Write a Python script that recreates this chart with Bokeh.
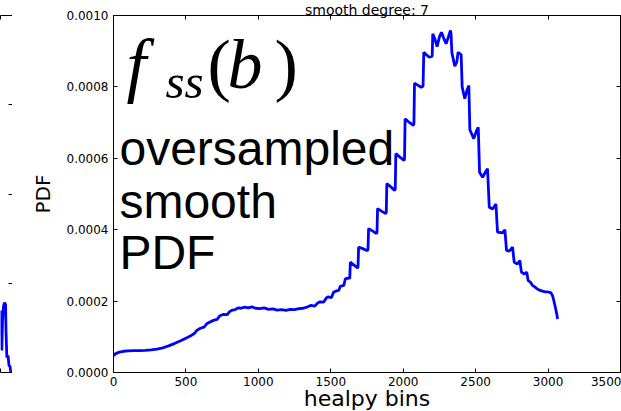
from bokeh.plotting import figure
from bokeh.layouts import row
from bokeh.models import FixedTicker, LinearAxis, Label, Range1d, PrintfTickFormatter, Title
from bokeh.embed import file_html
from bokeh.resources import INLINE

# ---------------- data ----------------
bins = [0, 15, 40, 70, 100, 140, 180, 220, 260, 300, 340, 380, 420, 460, 500, 530,
        560, 575, 600, 625, 645, 660, 690, 715, 735, 760, 785, 800, 815, 840, 860, 880,
        905, 930, 955, 980, 1010, 1040, 1070, 1100, 1130, 1160, 1190, 1220, 1250, 1280,
        1310, 1340, 1365, 1390, 1410, 1425, 1450, 1470, 1480, 1505, 1518, 1530, 1555,
        1565, 1590, 1600, 1625, 1631, 1635, 1660, 1684, 1688, 1692, 1720, 1753, 1757,
        1761, 1790, 1815, 1819, 1823, 1850, 1879, 1883, 1887, 1915, 1941, 1945, 1949,
        1975, 2005, 2009, 2013, 2040, 2070, 2074, 2078, 2100, 2124, 2137, 2142, 2160,
        2180, 2200, 2204, 2218, 2234, 2250, 2264, 2280, 2296, 2312, 2326, 2330, 2336,
        2356, 2370, 2379, 2400, 2407, 2425, 2440, 2453, 2460, 2487, 2505, 2518, 2527,
        2548, 2570, 2582, 2594, 2617, 2640, 2651, 2686, 2702, 2713, 2732, 2755, 2766,
        2789, 2805, 2816, 2835, 2853, 2862, 2880, 2892, 2910, 2926, 2945, 2961, 2980,
        2995, 3018, 3030, 3037, 3045, 3053, 3060, 3066]
pdf = [0.0000470, 0.0000530, 0.0000570, 0.0000595, 0.0000605, 0.0000615, 0.0000612,
       0.0000620, 0.0000632, 0.0000652, 0.0000690, 0.0000745, 0.0000810, 0.0000880,
       0.0000960, 0.000102, 0.000110, 0.000118, 0.000124, 0.000127, 0.000137, 0.000140,
       0.000146, 0.000149, 0.000159, 0.000163, 0.000162, 0.000170, 0.000174, 0.000176,
       0.000181, 0.000180, 0.000183, 0.000181, 0.000184, 0.000180, 0.000179, 0.000181,
       0.000177, 0.000178, 0.000175, 0.000176, 0.000174, 0.000177, 0.000176, 0.000179,
       0.000180, 0.000184, 0.000188, 0.000186, 0.000195, 0.000198, 0.000197, 0.000209,
       0.000212, 0.000210, 0.000224, 0.000227, 0.000230, 0.000241, 0.000244, 0.000262,
       0.000265, 0.000263, 0.000309, 0.000301, 0.000293, 0.000295, 0.000351, 0.000347,
       0.000341, 0.000345, 0.000403, 0.000396, 0.000389, 0.000392, 0.000459, 0.000452,
       0.000445, 0.000448, 0.000529, 0.000520, 0.000510, 0.000514, 0.000613, 0.000604,
       0.000594, 0.000598, 0.000711, 0.000701, 0.000692, 0.000697, 0.000810, 0.000805,
       0.000799, 0.000802, 0.000897, 0.000890, 0.000883, 0.000886, 0.000949, 0.000935,
       0.000913, 0.000940, 0.000953, 0.000936, 0.000921, 0.000940, 0.000958, 0.000950,
       0.000896, 0.000858, 0.000870, 0.000897, 0.000890, 0.000800, 0.000767, 0.000790,
       0.000804, 0.000680, 0.000655, 0.000676, 0.000687, 0.000561, 0.000547, 0.000563,
       0.000571, 0.000463, 0.000458, 0.000472, 0.000393, 0.000391, 0.000400, 0.000342,
       0.000340, 0.000351, 0.000309, 0.000304, 0.000314, 0.000281, 0.000276, 0.000281,
       0.000258, 0.000252, 0.000244, 0.000239, 0.000234, 0.000230, 0.000228, 0.000226,
       0.000226, 0.000224, 0.000216, 0.000206, 0.000192, 0.000178, 0.000163, 0.000150]

# tail of the neighbouring (cut-off) panel on the left
left_bins = [2997, 3002, 3006, 3011, 3018, 3025, 3032, 3035, 3041, 3049, 3056, 3063, 3068]
left_pdf = [0.000207, 0.000347, 0.000123, 0.000291, 0.000370, 0.000392, 0.000381,
            0.000235, 0.000084, 0.000095, 0.000039, 0.000034, 0.0]

x_ticks = [0, 500, 1000, 1500, 2000, 2500, 3000, 3500]
y_ticks = [0.0, 0.0002, 0.0004, 0.0006, 0.0008, 0.0010]
left_x_ticks = [3000]
left_y_ticks = [0.0005, 0.0010, 0.0015]

title_text = "smooth degree: 7"
x_label = "healpy bins"
y_label = "PDF"
note_lines = ["oversampled", "smooth", "PDF"]

FONT = "DejaVu Sans"


def style_axis(ax, ticks, labels=True, size="12px"):
    ax.ticker = FixedTicker(ticks=ticks)
    ax.minor_tick_line_color = None
    ax.major_tick_in = 4
    ax.major_tick_out = 0
    ax.axis_line_color = "black"
    ax.major_tick_line_color = "black"
    if labels:
        ax.major_label_text_font = FONT
        ax.major_label_text_font_size = size
        ax.major_label_text_color = "black"
    else:
        ax.major_label_text_font_size = "0px"
        ax.major_label_text_color = None
        ax.major_label_standoff = 0


# ---------------- left sliver panel ----------------
pl = figure(width=12, height=411, x_range=Range1d(2997, 3080), y_range=Range1d(0, 0.002),
            output_backend="svg", toolbar_location=None,
            x_axis_location=None, y_axis_location=None,
            min_border_left=0, min_border_right=0, min_border_top=15, min_border_bottom=39)
pl.outline_line_color = None
pl.xgrid.visible = False
pl.ygrid.visible = False
lb = LinearAxis()
style_axis(lb, left_x_ticks)
lb.major_label_standoff = 4
pl.add_layout(lb, "below")
lt = LinearAxis()
style_axis(lt, left_x_ticks, labels=False)
pl.add_layout(lt, "above")
lr = LinearAxis()
style_axis(lr, left_y_ticks, labels=False)
pl.add_layout(lr, "right")
pl.line(left_bins, left_pdf, line_color="#0000ff", line_width=2.8)

# ---------------- main panel ----------------
p = figure(width=609, height=411, x_range=Range1d(0, 3500), y_range=Range1d(0, 0.001),
           output_backend="svg", toolbar_location=None,
           x_axis_location=None, y_axis_location=None,
           min_border_left=101, min_border_right=1, min_border_top=15, min_border_bottom=39)
p.outline_line_color = "black"
p.xgrid.visible = False
p.ygrid.visible = False

xb = LinearAxis()
style_axis(xb, x_ticks)
xb.major_label_standoff = 4
p.add_layout(xb, "below")

yl = LinearAxis(axis_label=y_label)
style_axis(yl, y_ticks)
yl.formatter = PrintfTickFormatter(format="%.4f")
yl.major_label_standoff = 5
yl.axis_label_text_font = FONT
yl.axis_label_text_font_size = "20px"
yl.axis_label_text_font_style = "normal"
yl.axis_label_text_color = "black"
yl.axis_label_standoff = 9
p.add_layout(yl, "left")

xt = LinearAxis()
style_axis(xt, x_ticks, labels=False)
p.add_layout(xt, "above")
yr = LinearAxis()
style_axis(yr, y_ticks, labels=False)
p.add_layout(yr, "right")

# x-axis title, as a title panel under the tick labels
p.add_layout(Title(text=x_label, align="center", vertical_align="middle",
                   text_font=FONT, text_font_size="22px", text_font_style="normal",
                   text_color="black", standoff=-8), "below")
# plot title at the top (partly cut off in the source picture)
p.add_layout(Title(text=title_text, align="center", vertical_align="bottom",
                   text_font=FONT, text_font_size="14px", text_font_style="normal",
                   text_color="black", standoff=-4), "above")

p.line(bins, pdf, line_color="#0000ff", line_width=2.8)

# math annotation f_ss(b)
SERIF = "Liberation Serif"
math_y = 0.000862
p.add_layout(Label(x=90, y=math_y, text="f", text_font=SERIF, text_font_style="italic",
                   text_font_size="71px", text_baseline="middle", text_color="black"))
p.add_layout(Label(x=359, y=0.000814, text="ss", text_font=SERIF, text_font_style="italic",
                   text_font_size="49px", text_baseline="middle", text_color="black"))
p.add_layout(Label(x=649, y=math_y, text="(", text_font=SERIF,
                   text_font_size="70px", text_baseline="middle", text_color="black"))
p.add_layout(Label(x=787, y=math_y, text="b", text_font=SERIF, text_font_style="italic",
                   text_font_size="70px", text_baseline="middle", text_color="black"))
p.add_layout(Label(x=1112, y=math_y, text=")", text_font=SERIF,
                   text_font_size="70px", text_baseline="middle", text_color="black"))

note_y = [0.000628, 0.000480, 0.000337]
for txt, yy in zip(note_lines, note_y):
    p.add_layout(Label(x=41, y=yy, text=txt, text_font="Liberation Sans",
                       text_font_size="48px", text_baseline="middle",
                       text_color="black"))

layout = row(pl, p)

open("out.html", "w").write(file_html(layout, INLINE))
